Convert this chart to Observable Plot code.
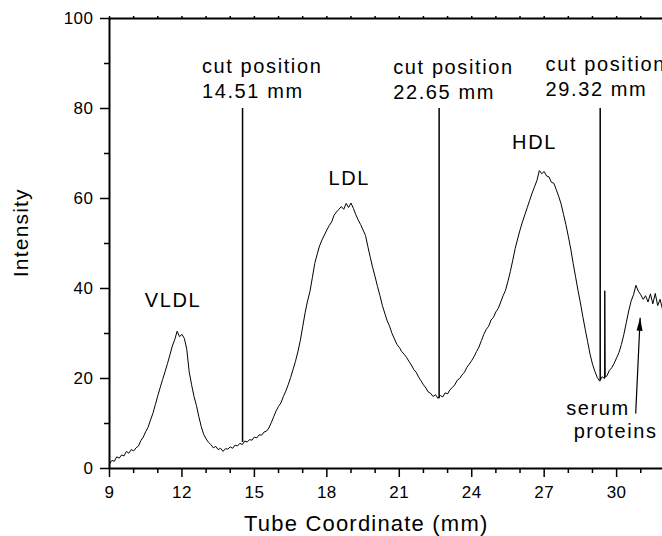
<!DOCTYPE html>
<html>
<head>
<meta charset="utf-8">
<script src="https://cdn.jsdelivr.net/npm/d3@7"></script>
<script src="https://cdn.jsdelivr.net/npm/@observablehq/plot@0.6"></script>
<style>
  html, body { margin: 0; padding: 0; background: #fff; }
  #chart svg { display: block; }
  #chart [aria-description="annotation"] text { letter-spacing: 1.6px; }
  #chart [aria-description="axis title"] text { letter-spacing: 1.2px; }
  #chart [aria-description="tick label"] text { letter-spacing: 0.5px; }
</style>
</head>
<body>
<div id="chart"></div>
<script>
// ---- data ----
const trace = [
  [9.0,1.0],[9.1,1.8],[9.2,1.6],[9.3,2.6],[9.4,2.3],[9.5,3.0],[9.6,2.8],[9.7,3.8],[9.8,3.4],[9.9,4.2],
  [10.0,3.9],[10.1,4.6],[10.2,5.0],[10.3,6.2],[10.4,7.0],[10.5,8.2],[10.6,9.2],[10.7,10.8],[10.8,12.3],[10.9,14.2],
  [11.0,16.2],[11.1,18.0],[11.2,19.8],[11.3,21.5],[11.4,23.3],[11.5,25.2],[11.6,27.2],[11.7,28.6],[11.8,30.5],[11.9,29.3],
  [12.0,29.8],[12.1,28.9],[12.2,26.5],[12.3,21.5],[12.4,18.6],[12.5,16.0],[12.6,14.0],[12.7,11.5],[12.8,9.3],[12.9,7.6],
  [13.0,6.6],[13.1,5.8],[13.2,5.3],[13.3,4.6],[13.4,4.9],[13.5,4.2],[13.6,4.5],[13.7,3.8],[13.8,4.4],[13.9,4.3],
  [14.0,4.8],[14.1,4.5],[14.2,5.2],[14.3,5.0],[14.4,5.6],[14.5,5.3],[14.6,6.1],[14.7,5.9],[14.8,6.4],[14.9,6.3],
  [15.0,7.0],[15.1,6.8],[15.2,7.5],[15.3,7.4],[15.4,8.1],[15.5,8.3],[15.6,9.0],[15.7,10.2],[15.8,11.5],[15.9,12.8],
  [16.0,13.8],[16.1,14.6],[16.2,16.0],[16.3,17.2],[16.4,18.6],[16.5,20.2],[16.6,22.0],[16.7,23.8],[16.8,25.9],[16.9,28.4],
  [17.0,31.5],[17.1,34.6],[17.2,37.2],[17.3,39.3],[17.4,42.4],[17.5,45.6],[17.6,47.6],[17.7,49.5],[17.8,50.8],[17.9,51.9],
  [18.0,53.0],[18.1,54.0],[18.2,54.8],[18.3,56.3],[18.4,57.0],[18.5,57.6],[18.6,58.2],[18.7,57.6],[18.8,58.9],[18.9,58.0],
  [19.0,59.0],[19.1,57.8],[19.2,56.4],[19.3,55.2],[19.4,54.2],[19.5,53.0],[19.6,51.8],[19.7,49.3],[19.8,46.9],[19.9,44.6],
  [20.0,42.6],[20.1,40.4],[20.2,38.4],[20.3,36.2],[20.4,34.5],[20.5,32.8],[20.6,31.6],[20.7,30.0],[20.8,28.8],[20.9,27.6],
  [21.0,26.9],[21.1,26.0],[21.2,25.4],[21.3,24.7],[21.4,23.8],[21.5,23.0],[21.6,22.0],[21.7,21.4],[21.8,20.3],[21.9,19.5],
  [22.0,18.6],[22.1,17.9],[22.2,17.0],[22.3,16.7],[22.4,16.0],[22.5,16.4],[22.6,15.6],[22.7,16.2],[22.8,15.9],[22.9,16.8],
  [23.0,16.6],[23.1,17.5],[23.2,18.0],[23.3,18.6],[23.4,19.6],[23.5,20.0],[23.6,20.8],[23.7,21.4],[23.8,22.5],[23.9,23.2],
  [24.0,24.0],[24.1,24.9],[24.2,26.0],[24.3,27.0],[24.4,28.4],[24.5,29.8],[24.6,30.9],[24.7,31.6],[24.8,33.0],[24.9,33.6],
  [25.0,34.8],[25.1,35.6],[25.2,37.0],[25.3,38.4],[25.4,39.6],[25.5,41.6],[25.6,43.8],[25.7,46.3],[25.8,48.9],[25.9,51.0],
  [26.0,53.0],[26.1,54.8],[26.2,56.4],[26.3,58.0],[26.4,59.6],[26.5,61.2],[26.6,62.6],[26.7,64.0],[26.8,66.2],[26.9,65.5],
  [27.0,66.0],[27.1,65.0],[27.2,64.8],[27.3,63.6],[27.4,63.4],[27.5,62.0],[27.6,60.5],[27.7,58.8],[27.8,56.5],[27.9,54.2],
  [28.0,51.6],[28.1,48.8],[28.2,45.6],[28.3,42.6],[28.4,39.6],[28.5,36.8],[28.6,33.8],[28.7,30.9],[28.8,28.2],[28.9,25.4],
  [29.0,23.2],[29.1,21.6],[29.2,20.2],[29.3,19.4],[29.4,20.4],[29.5,20.0],[29.51,39.5],[29.53,20.3],[29.6,20.6],[29.7,21.8],[29.8,22.4],[29.9,23.4],
  [30.0,24.6],[30.1,25.8],[30.2,27.6],[30.3,29.8],[30.4,32.4],[30.5,35.0],[30.6,37.2],[30.7,38.6],[30.8,40.7],[30.9,39.4],
  [31.0,38.6],[31.1,37.6],[31.2,38.4],[31.3,37.0],[31.4,38.8],[31.5,36.6],[31.6,38.9],[31.7,36.2],[31.8,37.6],[31.9,35.4]
];

const cutPositions = [14.51, 22.65, 29.32];
const cutBottoms   = [5.8, 15.5, 19.5];
const cutTop       = 80;
const cutLabels    = ["cut position\n14.51 mm", "cut position\n22.65 mm", "cut position\n29.32 mm"];
const cutLabelX    = [12.83, 20.75, 27.06];
const cutLabelY    = [82.4, 82.2, 82.8];

const peakNames = ["VLDL", "LDL", "HDL"];
const peakX     = [11.63, 18.93, 26.6];
const peakY     = [35.8, 63.0, 71.0];

const noteLines = ["serum", "proteins"];
const noteX     = [27.91, 28.22];
const noteY     = [12.0, 6.7];
const arrowFrom = [30.79, 12.2];
const arrowTo   = [30.975, 33.5];

const xDomain = [9, 31.9];
const yDomain = [0, 100];
const xTicks  = [9, 12, 15, 18, 21, 24, 27, 30];
const xMinor  = [10, 11, 13, 14, 16, 17, 19, 20, 22, 23, 25, 26, 28, 29, 31];
const yTicks  = [0, 20, 40, 60, 80, 100];
const yMinor  = [10, 30, 50, 70, 90];
const xTitle  = "Tube Coordinate (mm)";
const yTitle  = "Intensity";

// ---- derived tables ----
const cuts  = cutPositions.map((x, i) => ({x, y1: cutBottoms[i], y2: cutTop}));
const cutTx = cutLabels.map((t, i) => ({t, x: cutLabelX[i], y: cutLabelY[i]}));
const peaks = peakNames.map((t, i) => ({t, x: peakX[i], y: peakY[i]}));
const notes = noteLines.map((t, i) => ({t, x: noteX[i], y: noteY[i]}));
const allX  = [...xTicks, ...xMinor];

// narrow filled arrow head, tip at origin pointing up
const arrowHead = {
  draw(ctx) {
    ctx.moveTo(0, 0);
    ctx.lineTo(-3, 13);
    ctx.lineTo(3, 13);
    ctx.closePath();
  }
};

const font = "'Liberation Sans', Arial, Helvetica, sans-serif";

const chart = Plot.plot({
  width: 662,
  height: 536,
  marginLeft: 109,
  marginRight: 0,
  marginTop: 18,
  marginBottom: 68,
  style: {fontFamily: font, fontSize: "17px", color: "black", background: "white", overflow: "visible"},
  x: {domain: xDomain, axis: null},
  y: {domain: yDomain, axis: null},
  marks: [
    // frame
    Plot.ruleX([xDomain[0]], {y1: yDomain[0], y2: yDomain[1], stroke: "black", strokeWidth: 2}),
    Plot.ruleY([yDomain[0]], {x1: xDomain[0], x2: xDomain[1], stroke: "black", strokeWidth: 2}),
    Plot.ruleY([yDomain[1]], {x1: xDomain[0], x2: xDomain[1], stroke: "black", strokeWidth: 2}),
    // ticks
    Plot.ruleX(xTicks, {y1: 0, y2: 0, insetBottom: -9, stroke: "black", strokeWidth: 1.5}),
    Plot.ruleX(xMinor, {y1: 0, y2: 0, insetBottom: -5, stroke: "black", strokeWidth: 1.5}),
    Plot.ruleX(allX, {y1: 100, y2: 100, insetTop: -2, stroke: "black", strokeWidth: 1.5}),
    Plot.ruleY(yTicks, {x1: 9, x2: 9, insetLeft: -9, stroke: "black", strokeWidth: 1.5}),
    Plot.ruleY(yMinor, {x1: 9, x2: 9, insetLeft: -5, stroke: "black", strokeWidth: 1.5}),
    // tick labels
    Plot.text(xTicks, {x: d => d, y: 0, text: d => String(d), lineAnchor: "top", dy: 17, fontSize: 17, fill: "black", ariaDescription: "tick label"}),
    Plot.text(yTicks, {x: 9, y: d => d, text: d => String(d), textAnchor: "end", lineAnchor: "middle", dx: -16, fontSize: 17, fill: "black", ariaDescription: "tick label"}),
    // axis titles
    Plot.text([xTitle], {x: 19.63, y: -13.8, text: d => d, lineAnchor: "bottom", fontSize: 22, fill: "black", ariaDescription: "axis title"}),
    Plot.text([yTitle], {x: 5.62, y: 52.4, text: d => d, rotate: -90, lineAnchor: "bottom", fontSize: 21, fill: "black", ariaDescription: "axis title"}),
    // cut lines
    Plot.ruleX(cuts, {x: "x", y1: "y1", y2: "y2", stroke: "black", strokeWidth: 1.5}),
    // trace
    Plot.line(trace, {x: d => d[0], y: d => d[1], stroke: "black", strokeWidth: 1}),
    // labels
    Plot.text(cutTx, {x: "x", y: "y", text: "t", textAnchor: "start", lineAnchor: "bottom", lineHeight: 1.25, fontSize: 20, fill: "black", ariaDescription: "annotation"}),
    Plot.text(peaks, {x: "x", y: "y", text: "t", lineAnchor: "bottom", fontSize: 20, fill: "black", ariaDescription: "annotation"}),
    Plot.text(notes, {x: "x", y: "y", text: "t", textAnchor: "start", lineAnchor: "bottom", fontSize: 20, fill: "black", ariaDescription: "annotation"}),
    // arrow
    Plot.link([0], {x1: arrowFrom[0], y1: arrowFrom[1], x2: arrowTo[0], y2: arrowTo[1], stroke: "black", strokeWidth: 1.2}),
    Plot.dot([0], {x: arrowTo[0], y: arrowTo[1], symbol: arrowHead, r: 5, fill: "black", stroke: "none", rotate: 2.7})
  ]
});
document.getElementById("chart").appendChild(chart);
</script>
</body>
</html>
